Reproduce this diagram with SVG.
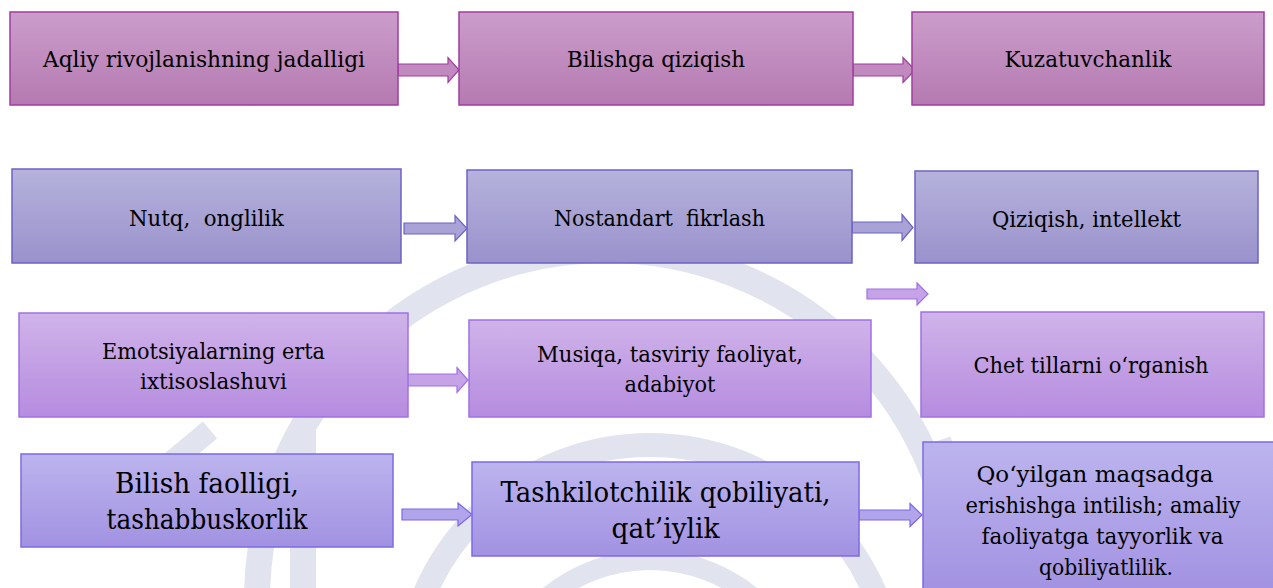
<svg xmlns="http://www.w3.org/2000/svg" width="1273" height="588" viewBox="0 0 1273 588">
<defs>
<linearGradient id="g1" x1="0" y1="0" x2="0" y2="1"><stop offset="0" stop-color="#CB9DCB"/><stop offset="1" stop-color="#B57AB1"/></linearGradient>
<linearGradient id="g2" x1="0" y1="0" x2="0" y2="1"><stop offset="0" stop-color="#B5B2DC"/><stop offset="1" stop-color="#9A92CC"/></linearGradient>
<linearGradient id="g3" x1="0" y1="0" x2="0" y2="1"><stop offset="0" stop-color="#CFB3E9"/><stop offset="1" stop-color="#B68CE0"/></linearGradient>
<linearGradient id="g4" x1="0" y1="0" x2="0" y2="1"><stop offset="0" stop-color="#BCB4EE"/><stop offset="1" stop-color="#A292E2"/></linearGradient>
<style>
.r1{fill:url(#g1);stroke:#A03CA0;stroke-width:1.5}
.r2{fill:url(#g2);stroke:#6E62C4;stroke-width:1.5}
.r3{fill:url(#g3);stroke:#A070E4;stroke-width:1.5}
.r4{fill:url(#g4);stroke:#7F68E6;stroke-width:1.5}
.a1{fill:#C08ABF;stroke:#A03CA0;stroke-width:1.2}
.a2{fill:#A8A2D6;stroke:#6E62C4;stroke-width:1.2}
.a3{fill:#C6A2E6;stroke:#A070E4;stroke-width:1.2}
.a4{fill:#B0A4EA;stroke:#7F68E6;stroke-width:1.2}
.t{fill:#000;text-anchor:middle;font-size:23px}
.big{font-size:28px}
.wm{fill:none;stroke:#E1E4EE}
</style>
</defs>
<g id="watermark" class="wm">
<circle cx="607" cy="600" r="350" stroke-width="26"/>
<circle cx="650" cy="690" r="245" stroke-width="24"/>
<circle cx="650" cy="720" r="160" stroke-width="20"/>
<path d="M303,430 L303,588" stroke-width="26"/>
<path d="M210,430 L150,480" stroke-width="22"/>
<path d="M940,440 L990,588" stroke-width="22"/>
</g>
<g id="connectors">
<polygon class="a1" points="398,64 448,64 448,57.5 459,70 448,82.5 448,76 398,76"/>
<polygon class="a1" points="853,64 903,64 903,57.5 915,70 903,82.5 903,76 853,76"/>
<polygon class="a2" points="404,223 455,223 455,215.5 467,228.5 455,241 455,234 404,234"/>
<polygon class="a2" points="852,222 902,222 902,214.5 913,227.5 902,240.5 902,233 852,233"/>
<polygon class="a3" points="867,289 917,289 917,283 928,294 917,305 917,299 867,299"/>
<polygon class="a3" points="405,374 457,374 457,367.5 468,380 457,392.5 457,386 405,386"/>
<polygon class="a4" points="402,509 458,509 458,503 472,514.5 458,526 458,520 402,520"/>
<polygon class="a4" points="859,510 910,510 910,503.5 922,515 910,526.5 910,520 859,520"/>
</g>
<g font-family="DejaVu Serif, serif">
<g id="n1"><rect class="r1" x="10" y="12" width="388" height="93"/><text class="t" x="204" y="67" textLength="322" lengthAdjust="spacingAndGlyphs">Aqliy rivojlanishning jadalligi</text></g>
<g id="n2"><rect class="r1" x="459" y="12" width="394" height="93"/><text class="t" x="656" y="67" textLength="178" lengthAdjust="spacingAndGlyphs">Bilishga qiziqish</text></g>
<g id="n3"><rect class="r1" x="912" y="12" width="352" height="93"/><text class="t" x="1088" y="67" textLength="167" lengthAdjust="spacingAndGlyphs">Kuzatuvchanlik</text></g>
<g id="n4"><rect class="r2" x="12" y="169" width="389" height="94"/><text class="t" x="206.5" y="226" xml:space="preserve" textLength="155" lengthAdjust="spacingAndGlyphs">Nutq,  onglilik</text></g>
<g id="n5"><rect class="r2" x="467" y="170" width="385" height="93"/><text class="t" x="659.5" y="226" xml:space="preserve" textLength="211" lengthAdjust="spacingAndGlyphs">Nostandart  fikrlash</text></g>
<g id="n6"><rect class="r2" x="915" y="171" width="343" height="92"/><text class="t" x="1086.5" y="227" textLength="189" lengthAdjust="spacingAndGlyphs">Qiziqish, intellekt</text></g>
<g id="n7"><rect class="r3" x="19" y="313" width="389" height="104"/><text class="t" x="213.5" y="359" textLength="223" lengthAdjust="spacingAndGlyphs">Emotsiyalarning erta</text><text class="t" x="213.5" y="389" textLength="147" lengthAdjust="spacingAndGlyphs">ixtisoslashuvi</text></g>
<g id="n8"><rect class="r3" x="469" y="320" width="402" height="97"/><text class="t" x="670" y="362" textLength="266" lengthAdjust="spacingAndGlyphs">Musiqa, tasviriy faoliyat,</text><text class="t" x="670" y="392" textLength="91" lengthAdjust="spacingAndGlyphs">adabiyot</text></g>
<g id="n9"><rect class="r3" x="921" y="312" width="343" height="105"/><text class="t" x="1091" y="373" textLength="235" lengthAdjust="spacingAndGlyphs">Chet tillarni o‘rganish</text></g>
<g id="n10"><rect class="r4" x="21" y="454" width="372" height="93"/><text class="t big" x="207" y="493" textLength="184" lengthAdjust="spacingAndGlyphs">Bilish faolligi,</text><text class="t big" x="207" y="529" textLength="201" lengthAdjust="spacingAndGlyphs">tashabbuskorlik</text></g>
<g id="n11"><rect class="r4" x="472" y="462" width="387" height="94"/><text class="t big" x="665.5" y="502" textLength="330" lengthAdjust="spacingAndGlyphs">Tashkilotchilik qobiliyati,</text><text class="t big" x="665.5" y="538" textLength="108" lengthAdjust="spacingAndGlyphs">qat’iylik</text></g>
<g id="n12"><rect class="r4" x="923" y="442" width="360" height="150"/><text class="t" x="1095" y="482" textLength="237" lengthAdjust="spacingAndGlyphs">Qo‘yilgan maqsadga</text><text class="t" x="1103" y="513" textLength="275" lengthAdjust="spacingAndGlyphs">erishishga intilish; amaliy</text><text class="t" x="1102.5" y="544" textLength="242" lengthAdjust="spacingAndGlyphs">faoliyatga tayyorlik va</text><text class="t" x="1106" y="575" textLength="134" lengthAdjust="spacingAndGlyphs">qobiliyatlilik.</text></g>
</g>
</svg>
